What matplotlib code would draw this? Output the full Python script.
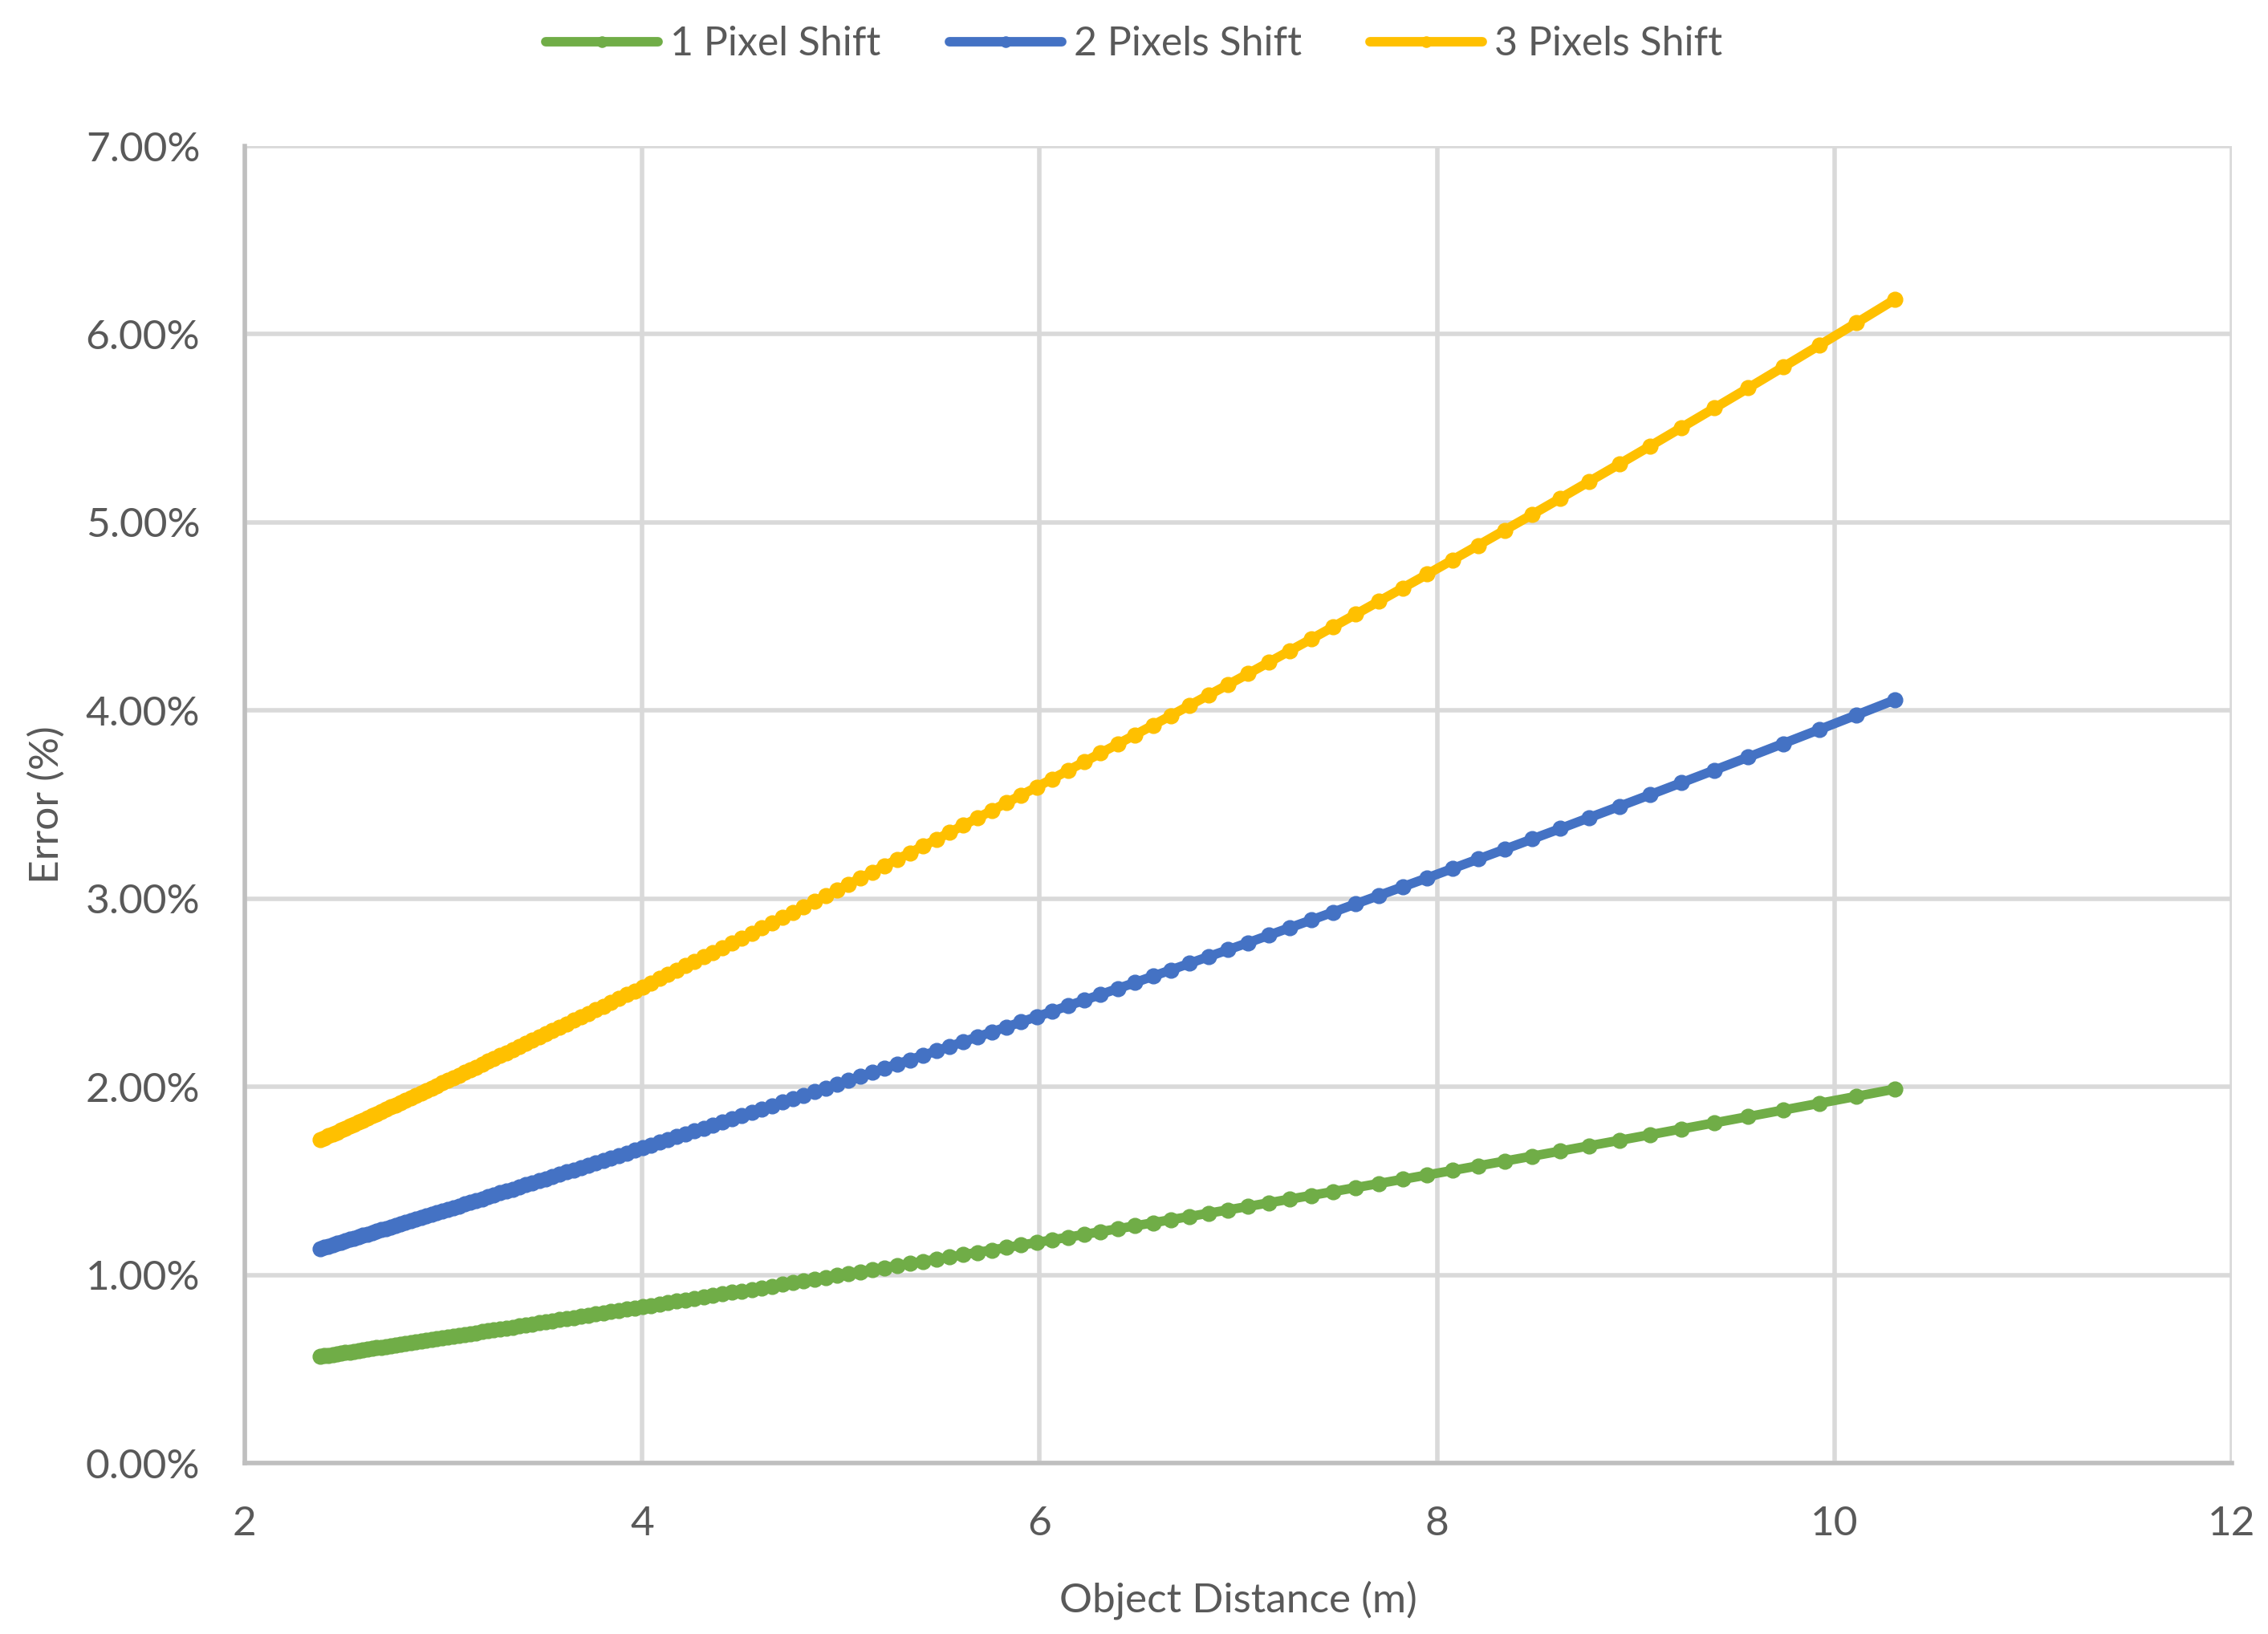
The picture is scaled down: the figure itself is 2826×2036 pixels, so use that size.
import matplotlib
matplotlib.use("Agg")
import matplotlib.pyplot as plt
from matplotlib.ticker import FuncFormatter, MultipleLocator

# object distance (m), far end first
distance = [
    10.305, 10.111, 9.923, 9.741, 9.566, 9.396, 9.231, 9.072, 8.917, 8.766,
    8.621, 8.479, 8.341, 8.207, 8.077, 7.951, 7.827, 7.707, 7.590, 7.477,
    7.366, 7.257, 7.152, 7.050, 6.949, 6.850, 6.754, 6.661, 6.570, 6.481,
    6.393, 6.307, 6.224, 6.142, 6.063, 5.985, 5.907, 5.832, 5.759, 5.687,
    5.616, 5.548, 5.480, 5.413, 5.347, 5.283, 5.220, 5.159, 5.099, 5.039,
    4.982, 4.924, 4.867, 4.812, 4.758, 4.705, 4.652, 4.601, 4.551, 4.501,
    4.452, 4.404, 4.356, 4.309, 4.263, 4.218, 4.174, 4.130, 4.088, 4.045,
    4.004, 3.963, 3.922, 3.882, 3.843, 3.804, 3.766, 3.728, 3.691, 3.655,
    3.619, 3.584, 3.549, 3.515, 3.481, 3.447, 3.414, 3.381, 3.349, 3.317,
    3.286, 3.254, 3.224, 3.194, 3.164, 3.135, 3.106, 3.078, 3.050, 3.022,
    2.994, 2.967, 2.940, 2.913, 2.887, 2.861, 2.835, 2.810, 2.785, 2.760,
    2.735, 2.712, 2.687, 2.664, 2.641, 2.618, 2.595, 2.573, 2.551, 2.529,
    2.507, 2.486, 2.464, 2.443, 2.422, 2.402, 2.381,
]

# error in percent
shift_1px = [
    1.9881, 1.9493, 1.9120, 1.8762, 1.8416, 1.8083, 1.7762, 1.7452, 1.7153, 1.6863,
    1.6584, 1.6313, 1.6051, 1.5798, 1.5552, 1.5314, 1.5083, 1.4859, 1.4641, 1.4430,
    1.4225, 1.4025, 1.3831, 1.3643, 1.3459, 1.3280, 1.3106, 1.2937, 1.2771, 1.2610,
    1.2453, 1.2300, 1.2151, 1.2005, 1.1862, 1.1723, 1.1587, 1.1455, 1.1325, 1.1198,
    1.1074, 1.0953, 1.0834, 1.0718, 1.0604, 1.0493, 1.0384, 1.0277, 1.0173, 1.0070,
    0.9970, 0.9872, 0.9775, 0.9681, 0.9588, 0.9497, 0.9407, 0.9320, 0.9234, 0.9149,
    0.9066, 0.8985, 0.8905, 0.8826, 0.8749, 0.8673, 0.8598, 0.8525, 0.8453, 0.8382,
    0.8313, 0.8244, 0.8177, 0.8110, 0.8045, 0.7981, 0.7918, 0.7855, 0.7794, 0.7734,
    0.7675, 0.7616, 0.7559, 0.7502, 0.7446, 0.7391, 0.7337, 0.7283, 0.7231, 0.7179,
    0.7128, 0.7077, 0.7027, 0.6978, 0.6930, 0.6882, 0.6835, 0.6789, 0.6743, 0.6698,
    0.6653, 0.6609, 0.6566, 0.6523, 0.6481, 0.6439, 0.6398, 0.6357, 0.6317, 0.6277,
    0.6238, 0.6200, 0.6161, 0.6124, 0.6086, 0.6050, 0.6013, 0.5977, 0.5942, 0.5907,
    0.5872, 0.5838, 0.5804, 0.5770, 0.5737, 0.5705, 0.5672,
]

shift_2px = [
    4.0568, 3.9762, 3.8986, 3.8240, 3.7524, 3.6832, 3.6166, 3.5524, 3.4904, 3.4306,
    3.3726, 3.3168, 3.2626, 3.2102, 3.1596, 3.1104, 3.0628, 3.0166, 2.9718, 2.9282,
    2.8860, 2.8450, 2.8050, 2.7662, 2.7286, 2.6918, 2.6560, 2.6212, 2.5874, 2.5542,
    2.5220, 2.4906, 2.4600, 2.4302, 2.4010, 2.3724, 2.3446, 2.3174, 2.2910, 2.2650,
    2.2396, 2.2148, 2.1906, 2.1668, 2.1436, 2.1208, 2.0986, 2.0768, 2.0554, 2.0346,
    2.0140, 1.9940, 1.9744, 1.9550, 1.9362, 1.9176, 1.8994, 1.8814, 1.8640, 1.8468,
    1.8298, 1.8132, 1.7970, 1.7810, 1.7652, 1.7498, 1.7346, 1.7196, 1.7050, 1.6906,
    1.6764, 1.6626, 1.6488, 1.6354, 1.6220, 1.6090, 1.5962, 1.5836, 1.5710, 1.5588,
    1.5468, 1.5350, 1.5232, 1.5118, 1.5004, 1.4892, 1.4782, 1.4674, 1.4566, 1.4462,
    1.4358, 1.4256, 1.4154, 1.4054, 1.3956, 1.3860, 1.3764, 1.3670, 1.3578, 1.3486,
    1.3396, 1.3306, 1.3218, 1.3132, 1.3046, 1.2962, 1.2878, 1.2796, 1.2714, 1.2634,
    1.2554, 1.2476, 1.2400, 1.2322, 1.2248, 1.2172, 1.2100, 1.2026, 1.1954, 1.1884,
    1.1814, 1.1744, 1.1676, 1.1608, 1.1540, 1.1474, 1.1410,
]

shift_3px = [
    6.1855, 6.0605, 5.9406, 5.8251, 5.7141, 5.6075, 5.5045, 5.4053, 5.3097, 5.2173,
    5.1282, 5.0418, 4.9587, 4.8779, 4.7998, 4.7244, 4.6511, 4.5801, 4.5112, 4.4445,
    4.3794, 4.3165, 4.2554, 4.1957, 4.1378, 4.0817, 4.0268, 3.9734, 3.9215, 3.8711,
    3.8215, 3.7735, 3.7266, 3.6809, 3.6364, 3.5929, 3.5502, 3.5087, 3.4680, 3.4286,
    3.3898, 3.3519, 3.3148, 3.2787, 3.2432, 3.2085, 3.1745, 3.1413, 3.1087, 3.0768,
    3.0457, 3.0149, 2.9850, 2.9558, 2.9268, 2.8987, 2.8709, 2.8437, 2.8168, 2.7908,
    2.7651, 2.7397, 2.7149, 2.6907, 2.6667, 2.6431, 2.6201, 2.5974, 2.5750, 2.5531,
    2.5316, 2.5104, 2.4898, 2.4691, 2.4491, 2.4291, 2.4096, 2.3905, 2.3716, 2.3528,
    2.3346, 2.3166, 2.2990, 2.2813, 2.2643, 2.2472, 2.2305, 2.2140, 2.1979, 2.1817,
    2.1662, 2.1506, 2.1354, 2.1201, 2.1051, 2.0905, 2.0761, 2.0618, 2.0477, 2.0339,
    2.0202, 2.0067, 1.9932, 1.9801, 1.9672, 1.9543, 1.9418, 1.9292, 1.9169, 1.9047,
    1.8927, 1.8807, 1.8691, 1.8577, 1.8460, 1.8349, 1.8236, 1.8128, 1.8017, 1.7910,
    1.7805, 1.7700, 1.7595, 1.7494, 1.7392, 1.7290, 1.7191,
]

series_names = ["1 Pixel Shift", "2 Pixels Shift", "3 Pixels Shift"]
series_colors = ["#70AD47", "#4472C4", "#FFC000"]
text_color = "#595959"

plt.rcParams["font.family"] = ["Lato", "DejaVu Sans"]

fig = plt.figure(figsize=(28.26, 20.36), dpi=100)
ax = fig.add_axes([0.1079, 0.1046, 0.8762, 0.806])

for ys, name, col in zip([shift_1px, shift_2px, shift_3px], series_names, series_colors):
    ax.plot(distance, ys, "-o", color=col, lw=8.5, ms=13.5, label=name,
            solid_capstyle="round", clip_on=False)

ax.set_xlim(2, 12)
ax.set_ylim(0, 7)
ax.xaxis.set_major_locator(MultipleLocator(2))
ax.yaxis.set_major_locator(MultipleLocator(1))
ax.yaxis.set_major_formatter(FuncFormatter(lambda v, p: f"{v:.2f}%"))

ax.grid(True, color="#D9D9D9", lw=4)
ax.set_axisbelow(True)
for side in ["top", "right"]:
    ax.spines[side].set_visible(False)
for side in ["left", "bottom"]:
    ax.spines[side].set_color("#BFBFBF")
    ax.spines[side].set_linewidth(4)

ax.tick_params(length=0, labelsize=37, labelcolor=text_color)
ax.tick_params(axis="y", pad=40)
ax.tick_params(axis="x", pad=38)

ax.set_xlabel("Object Distance (m)", fontsize=37, color=text_color, labelpad=34)
ax.set_ylabel("Error (%)", fontsize=37, color=text_color, labelpad=18)

fig.legend(loc="center", bbox_to_anchor=(0.5, 1 - 55 / 2036), ncol=3,
           frameon=False, fontsize=36, labelcolor=text_color,
           handlelength=2.8, handletextpad=0.3, columnspacing=1.7,
           markerscale=0.7)

fig.savefig("out.png", dpi=100)
